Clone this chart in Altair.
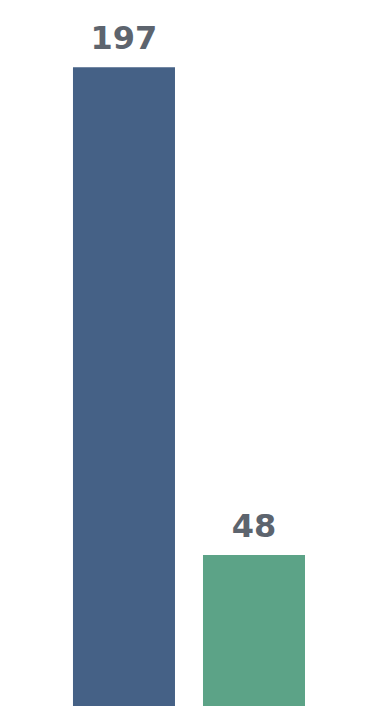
import altair as alt
import pandas as pd

categories = ["A", "B"]
values = [197, 48]
colors = ["#456186", "#5ca387"]

df = pd.DataFrame({"cat": categories, "value": values, "color": colors})

x = alt.X("cat:N", axis=None,
          scale=alt.Scale(paddingInner=0.2154, paddingOuter=0.546, align=0.514))
y = alt.Y("value:Q", axis=None, scale=alt.Scale(domain=[1.9, 217.5], nice=False, zero=False))

bars = alt.Chart(df).mark_bar(clip=True).encode(
    x=x, y=y, y2=alt.datum(0), color=alt.Color("color:N", scale=None)
)
labels = alt.Chart(df).mark_text(
    dy=-18, baseline="alphabetic", fontSize=32, fontWeight="bold",
    font="DejaVu Sans", color="#5d646e"
).encode(x=x, y=y, text="value:Q")

chart = (bars + labels).properties(
    width=374, height=706, padding=0, autosize=alt.AutoSizeParams(type="none")
).configure_view(stroke=None)

chart.save("out.html", embed_options={"renderer": "svg", "actions": False})
